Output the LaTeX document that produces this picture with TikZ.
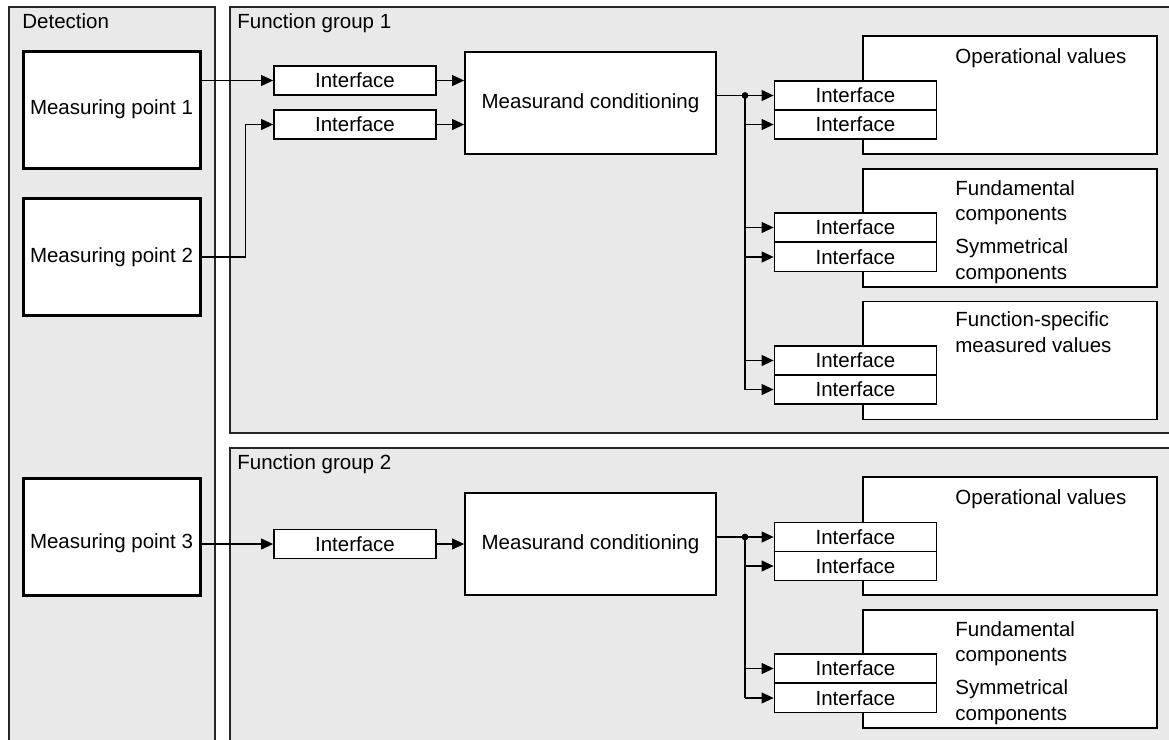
\documentclass[tikz,border=0pt]{standalone}
\usepackage{fontspec}
\setmainfont{Liberation Sans}
\usetikzlibrary{arrows.meta,positioning,calc}
\definecolor{panelgray}{RGB}{233,233,233}
\tikzset{
  panel/.style = {draw=black!85, line width=0.9pt, fill=panelgray, inner sep=0pt},
  ptitle/.style= {anchor=base west, inner sep=0pt},
  mpoint/.style= {draw, line width=1.5pt, fill=white, minimum width=88.5pt,
                  minimum height=58.5pt, inner sep=0pt},
  iface/.style = {draw, line width=0.9pt, fill=white, minimum width=81pt,
                  minimum height=14.5pt, inner sep=0pt},
  cond/.style  = {draw, line width=0.9pt, fill=white, minimum width=125.5pt,
                  minimum height=51pt, inner sep=0pt},
  vals/.style  = {draw, line width=0.9pt, fill=white, minimum width=147pt,
                  minimum height=59pt, inner sep=0pt},
  vtext/.style = {anchor=base west, align=left, inner sep=0pt},
  e/.style     = {-{Triangle[length=6pt,width=5.5pt]}, line width=0.55pt},
  bus/.style   = {line width=0.55pt},
  dot/.style   = {circle, fill, inner sep=0pt, minimum size=3.4pt}
}

\begin{document}
\begin{tikzpicture}[x=0.5pt,y=-0.5pt,font=\fontsize{10.25pt}{12.75pt}\selectfont]
  \useasboundingbox (0,0) rectangle (1169,740);
  \clip (0,0) rectangle (1169,740);
  \node[panel, minimum width=103pt, minimum height=381.5pt] (det) at (112,388.5) {};
  \node[panel, minimum width=485pt, minimum height=213pt] (fg1) at (715,220) {};
  \node[panel, minimum width=485pt, minimum height=166pt] (fg2) at (715,614) {};
  \node[ptitle] (dett) at (22,28) {Detection};
  \node[ptitle] (fg1t) at (237,28) {Function group 1};
  \node[ptitle] (fg2t) at (237,469) {Function group 2};

  \node[mpoint] (mp1) at (111.5,109.5) {Measuring point 1};
  \node[mpoint] (mp2) at (111.5,257) {Measuring point 2};
  \node[mpoint, label={[yshift=-3.25pt]center:Measuring point 3}] (mp3) at (111.5,536.5) {};

  \node[iface] (if1a) at (355,80.5) {Interface};
  \node[iface] (if1b) at (355,124.5) {Interface};
  \node[cond] (mc1) at (590.5,103) {Measurand conditioning};

  \node[vals] (ov1) at (1010,95) {};
  \node[vals] (fs1) at (1010,228) {};
  \node[vals] (fm1) at (1010,360.5) {};
  \node[vtext] (ov1t) at (955,63) {Operational values};
  \node[vtext] (fs1a) at (955,220.5) {Fundamental\\components};
  \node[vtext] (fs1b) at (955,279) {Symmetrical\\components};
  \node[vtext] (fm1t) at (955,352) {Function-specific\\measured values};
  \foreach \n/\y in {1/95.5, 2/124.5, 3/227.5, 4/257, 5/360.5, 6/389.5}
    \node[iface] (ia\n) at (855.5,\y) {Interface};
  \node[dot] (j1) at (745,95.5) {};

  \draw[e] (if1a -| mp1.east) -- (if1a.west);
  \draw[e] (mp2.east) -- ++(44,0) |- (if1b.west);
  \draw[e] (if1a.east) -- (if1a.east -| mc1.west);
  \draw[e] (if1b.east) -- (if1b.east -| mc1.west);
  \draw[bus] (mc1.east |- j1) -- (j1.center) -- (j1.center |- ia6.west);
  \foreach \n in {1,...,6}
    \draw[e] (j1.center |- ia\n.west) -- (ia\n.west);

  \node[iface] (if2) at (355,544) {Interface};
  \node[cond] (mc2) at (590.5,544) {Measurand conditioning};
  \node[vals] (ov2) at (1010,536) {};
  \node[vals] (fs2) at (1010,669) {};
  \node[vtext] (ov2t) at (955,504) {Operational values};
  \node[vtext] (fs2a) at (955,661.5) {Fundamental\\components};
  \node[vtext] (fs2b) at (955,720) {Symmetrical\\components};
  \foreach \n/\y in {1/537, 2/566, 3/668.5, 4/698}
    \node[iface] (ib\n) at (855.5,\y) {Interface};
  \node[dot] (j2) at (745,537) {};

  \draw[e] (if2 -| mp3.east) -- (if2.west);
  \draw[e] (if2.east) -- (mc2.west);
  \draw[bus] (mc2.east |- j2) -- (j2.center) -- (j2.center |- ib4.west);
  \foreach \n in {1,...,4}
    \draw[e] (j2.center |- ib\n.west) -- (ib\n.west);
\end{tikzpicture}
\end{document}
